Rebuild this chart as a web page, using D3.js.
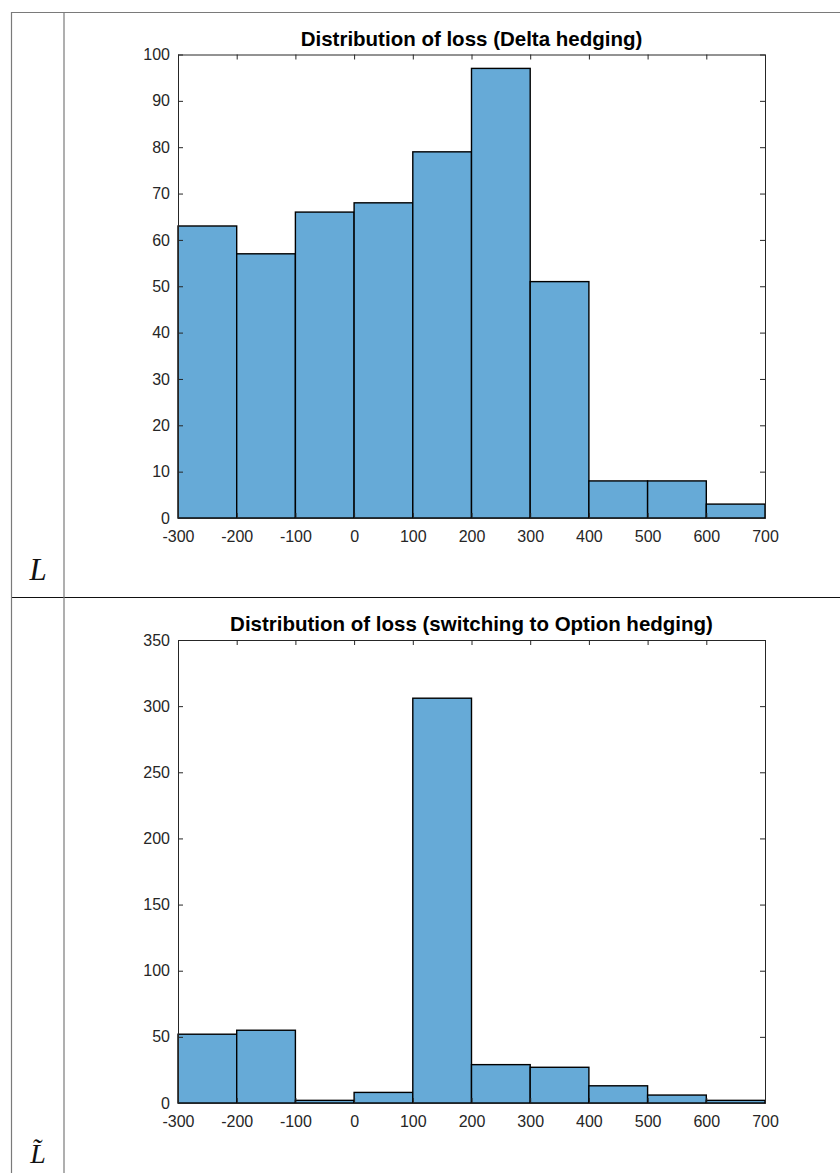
<!DOCTYPE html>
<html>
<head>
<meta charset="utf-8">
<script src="https://cdn.jsdelivr.net/npm/d3@7"></script>
<style>
  html, body { margin: 0; padding: 0; background: #fff; }
  svg { display: block; }
</style>
</head>
<body>
<svg id="chart" width="840" height="1173"></svg>
<script>
// Histogram bin edges shared by both panels
const binEdges = [-300, -200, -100, 0, 100, 200, 300, 400, 500, 600, 700];
const xTicks = [-300, -200, -100, 0, 100, 200, 300, 400, 500, 600, 700];

// Panel 1: Delta hedging
const deltaTitle = "Distribution of loss (Delta hedging)";
const deltaCounts = [63, 57, 66, 68, 79, 97, 51, 8, 8, 3];
const deltaYTicks = [0, 10, 20, 30, 40, 50, 60, 70, 80, 90, 100];

// Panel 2: switching to option hedging
const optionTitle = "Distribution of loss (switching to Option hedging)";
const optionCounts = [52, 55, 2, 8, 306, 29, 27, 13, 6, 2];
const optionYTicks = [0, 50, 100, 150, 200, 250, 300, 350];

const svg = d3.select("#chart");
const FILL = "#66aad7";
const AXIS = "#262626";
const FONT = "'Liberation Sans', Arial, Helvetica, sans-serif";

// Table frame
const frame = svg.append("g");
frame.append("line").attr("x1", 11).attr("x2", 840).attr("y1", 12.5).attr("y2", 12.5)
  .attr("stroke", "#7a7a7a").attr("stroke-width", 1.2);
frame.append("line").attr("x1", 11).attr("x2", 840).attr("y1", 597.5).attr("y2", 597.5)
  .attr("stroke", "#111").attr("stroke-width", 1.2);
frame.append("line").attr("x1", 11.5).attr("x2", 11.5).attr("y1", 12).attr("y2", 1173)
  .attr("stroke", "#7a7a7a").attr("stroke-width", 1.2);
frame.append("line").attr("x1", 64).attr("x2", 64).attr("y1", 12).attr("y2", 1173)
  .attr("stroke", "#7a7a7a").attr("stroke-width", 1.2);

// Row labels
const labelFont = "'Liberation Serif', 'DejaVu Serif', serif";
frame.append("text").attr("x", 38).attr("y", 580).attr("text-anchor", "middle")
  .attr("font-family", labelFont).attr("font-style", "italic").attr("font-size", 31)
  .attr("fill", "#111").text("L");
frame.append("text").attr("x", 38).attr("y", 1163).attr("text-anchor", "middle")
  .attr("font-family", labelFont).attr("font-style", "italic").attr("font-size", 28)
  .attr("fill", "#111").text("L\u0303");

function drawHist(opts) {
  const { left, right, top, bottom, yMax, counts, yTicks, title } = opts;
  const g = svg.append("g");
  const x = d3.scaleLinear().domain([binEdges[0], binEdges[binEdges.length - 1]]).range([left, right]);
  const y = d3.scaleLinear().domain([0, yMax]).range([bottom, top]);

  // Bars
  g.selectAll("rect.bar").data(counts).join("rect")
    .attr("class", "bar")
    .attr("x", (d, i) => x(binEdges[i]))
    .attr("width", (d, i) => x(binEdges[i + 1]) - x(binEdges[i]))
    .attr("y", d => y(d))
    .attr("height", d => y(0) - y(d))
    .attr("fill", FILL)
    .attr("stroke", "#000")
    .attr("stroke-width", 1.4);

  const tickLen = 5;
  const fmt = d => String(d);
  const styleAxis = sel => {
    sel.select(".domain").attr("stroke", AXIS).attr("stroke-width", 1);
    sel.selectAll(".tick line").attr("stroke", AXIS).attr("stroke-width", 1);
    sel.selectAll(".tick text").attr("fill", AXIS)
      .attr("font-family", FONT).attr("font-size", 16);
  };

  // Bottom axis (ticks inward)
  const bx = g.append("g").attr("transform", `translate(0,${bottom})`)
    .call(d3.axisBottom(x).tickValues(xTicks).tickSize(-tickLen).tickSizeOuter(0).tickPadding(13).tickFormat(fmt));
  styleAxis(bx);
  // Top axis (box edge, ticks inward, no labels)
  const tx = g.append("g").attr("transform", `translate(0,${top})`)
    .call(d3.axisTop(x).tickValues(xTicks).tickSize(-tickLen).tickSizeOuter(0).tickFormat(""));
  styleAxis(tx);
  // Left axis
  const ly = g.append("g").attr("transform", `translate(${left},0)`)
    .call(d3.axisLeft(y).tickValues(yTicks).tickSize(-tickLen).tickSizeOuter(0).tickPadding(8).tickFormat(fmt));
  styleAxis(ly);
  // Right axis
  const ry = g.append("g").attr("transform", `translate(${right},0)`)
    .call(d3.axisRight(y).tickValues(yTicks).tickSize(-tickLen).tickSizeOuter(0).tickFormat(""));
  styleAxis(ry);

  // Title
  g.append("text")
    .attr("x", (left + right) / 2).attr("y", top - 9)
    .attr("text-anchor", "middle")
    .attr("font-family", FONT).attr("font-weight", "bold").attr("font-size", 20.5)
    .attr("fill", "#000")
    .text(title);
}

drawHist({ left: 178, right: 765, top: 54.5, bottom: 518, yMax: 100,
  counts: deltaCounts, yTicks: deltaYTicks, title: deltaTitle });
drawHist({ left: 178, right: 765, top: 640, bottom: 1103, yMax: 350,
  counts: optionCounts, yTicks: optionYTicks, title: optionTitle });
</script>
</body>
</html>
